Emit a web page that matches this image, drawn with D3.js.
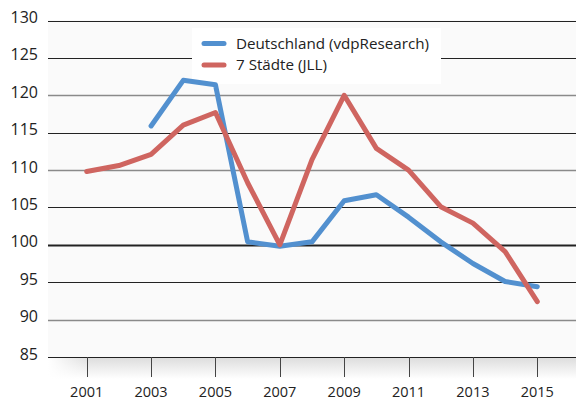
<!DOCTYPE html>
<html>
<head>
<meta charset="utf-8">
<script src="https://cdn.jsdelivr.net/npm/d3@7"></script>
<style>
  body { margin: 0; background: #fff; }
  svg text { font-family: "Open Sans", "Noto Sans", sans-serif; fill: #222; }
</style>
</head>
<body>
<div id="chart"></div>
<script>
// data
const years = [2001, 2002, 2003, 2004, 2005, 2006, 2007, 2008, 2009, 2010, 2011, 2012, 2013, 2014, 2015];
const deutschland = [null, null, 115.9, 122.0, 121.4, 100.4, 99.8, 100.4, 105.9, 106.7, 103.7, 100.4, 97.5, 95.1, 94.4];
const siebenStaedte = [109.8, 110.6, 112.1, 116.0, 117.7, 108.3, 100.0, 111.4, 120.0, 112.9, 110.0, 105.1, 102.9, 99.1, 92.4];
const yTicks = [85, 90, 95, 100, 105, 110, 115, 120, 125, 130];
const xTicks = [2001, 2003, 2005, 2007, 2009, 2011, 2013, 2015];
const seriesNames = ["Deutschland (vdpResearch)", "7 Städte (JLL)"];

const W = 576, H = 402;
const PLOT = { left: 48, right: 576, top: 20, bottom: 357 };
const COLORS = ["#5290cf", "#cf6560"];

const svg = d3.select("#chart").append("svg")
  .attr("width", W)
  .attr("height", H);

const x = d3.scaleLinear().domain([2001, 2015]).range([86.7, 537.3]);
const y = d3.scaleLinear().domain([85, 130]).range([PLOT.bottom, PLOT.top + 0.5]);

// soft shadow under the plot area
const defs = svg.append("defs");
const grad = defs.append("linearGradient")
  .attr("id", "shadow")
  .attr("x1", 0).attr("y1", 0).attr("x2", 0).attr("y2", 1);
grad.append("stop").attr("offset", "0%").attr("stop-color", "#dcdcdc");
grad.append("stop").attr("offset", "100%").attr("stop-color", "#ffffff");
const gradX = defs.append("linearGradient")
  .attr("id", "shadowFade")
  .attr("x1", 0).attr("y1", 0).attr("x2", 1).attr("y2", 0);
gradX.append("stop").attr("offset", "0%").attr("stop-color", "#fff").attr("stop-opacity", 1);
gradX.append("stop").attr("offset", "8%").attr("stop-color", "#fff").attr("stop-opacity", 0);

svg.append("rect")
  .attr("x", PLOT.left).attr("y", PLOT.bottom)
  .attr("width", PLOT.right - PLOT.left).attr("height", 22)
  .attr("fill", "url(#shadow)");
svg.append("rect")
  .attr("x", PLOT.left).attr("y", PLOT.bottom)
  .attr("width", PLOT.right - PLOT.left).attr("height", 22)
  .attr("fill", "url(#shadowFade)");

// plot background
svg.append("rect")
  .attr("x", PLOT.left).attr("y", PLOT.top)
  .attr("width", PLOT.right - PLOT.left).attr("height", PLOT.bottom - PLOT.top)
  .attr("fill", "#fafafa");

// gridlines
const greyLines = [90, 110, 120];
svg.append("g").selectAll("line")
  .data(yTicks)
  .join("line")
  .attr("x1", PLOT.left).attr("x2", PLOT.right)
  .attr("y1", d => Math.round(y(d)) + 0.5)
  .attr("y2", d => Math.round(y(d)) + 0.5)
  .attr("stroke", d => greyLines.includes(d) ? "#8a8a8a" : "#222")
  .attr("stroke-width", d => d === 100 ? 2 : (greyLines.includes(d) ? 1.3 : 1));

// y labels
svg.append("g").selectAll("text")
  .data(yTicks)
  .join("text")
  .attr("x", 38)
  .attr("y", d => y(d) + 2.5)
  .attr("text-anchor", "end")
  .attr("font-size", 16)
  .text(d => d);

// x ticks and labels
const xAxis = svg.append("g");
xAxis.selectAll("line")
  .data(xTicks)
  .join("line")
  .attr("x1", d => Math.round(x(d)) + 0.5)
  .attr("x2", d => Math.round(x(d)) + 0.5)
  .attr("y1", PLOT.bottom)
  .attr("y2", PLOT.bottom + 20)
  .attr("stroke", "#444")
  .attr("stroke-width", 1);
xAxis.selectAll("text")
  .data(xTicks)
  .join("text")
  .attr("x", d => x(d))
  .attr("y", 396.5)
  .attr("text-anchor", "middle")
  .attr("font-size", 14.5)
  .text(d => d);

// legend box sits over the 125 gridline
svg.append("rect")
  .attr("x", 192).attr("y", 28)
  .attr("width", 249).attr("height", 56)
  .attr("fill", "#fff");

// lines
const line = d3.line()
  .defined(d => d.value != null)
  .x(d => x(d.year))
  .y(d => y(d.value));

[deutschland, siebenStaedte].forEach((vals, i) => {
  const data = years.map((year, j) => ({ year, value: vals[j] }));
  svg.append("path")
    .datum(data)
    .attr("fill", "none")
    .attr("stroke", COLORS[i])
    .attr("stroke-width", 5)
    .attr("stroke-linejoin", "round")
    .attr("stroke-linecap", "round")
    .attr("d", line);
});

// legend entries
const legend = svg.append("g");
seriesNames.forEach((name, i) => {
  const ly = 43.5 + i * 21.5;
  legend.append("line")
    .attr("x1", 204).attr("x2", 224)
    .attr("y1", ly).attr("y2", ly)
    .attr("stroke", COLORS[i])
    .attr("stroke-width", 5)
    .attr("stroke-linecap", "round");
  legend.append("text")
    .attr("x", 236)
    .attr("y", ly + 5)
    .attr("font-size", 15.2)
    .text(name);
});
</script>
</body>
</html>
